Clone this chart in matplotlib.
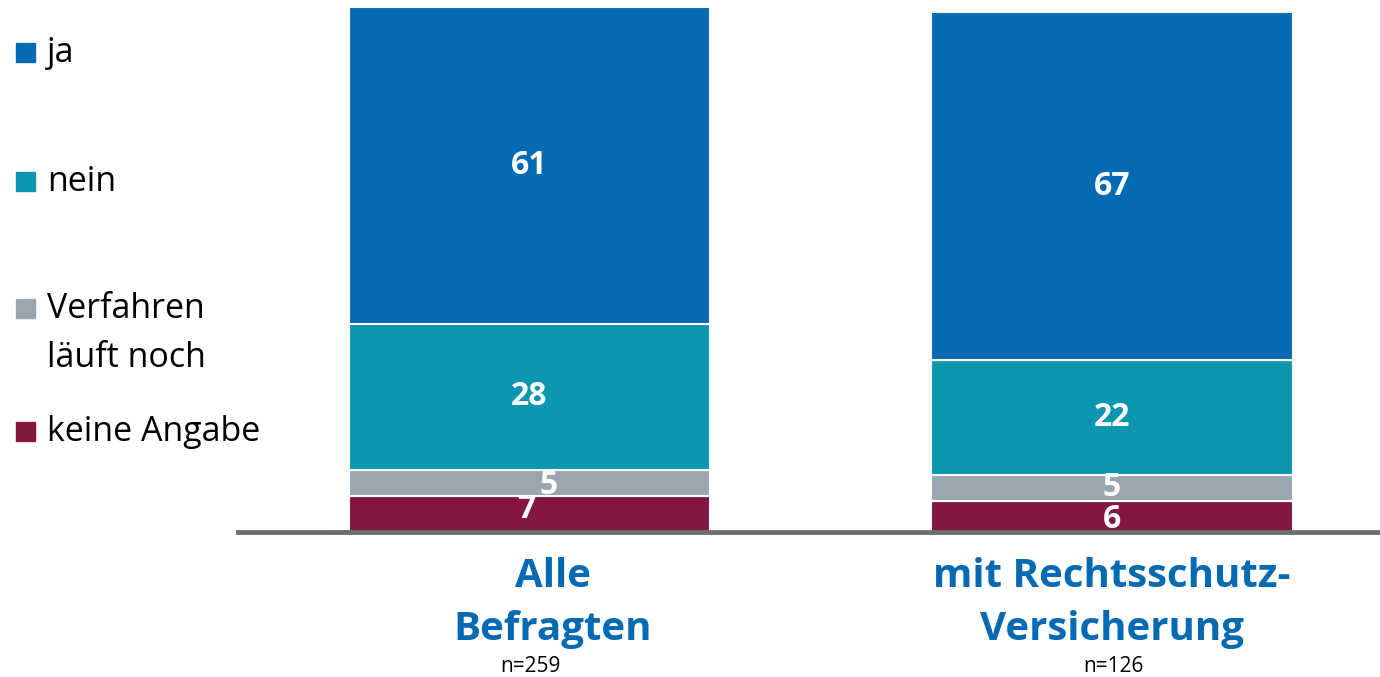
import matplotlib.pyplot as plt
from matplotlib.patches import Rectangle

plt.rcParams['font.family'] = ['Open Sans', 'DejaVu Sans']

# data
groups = ["Alle\nBefragten", "mit Rechtsschutz-\nVersicherung"]
sample_n = ["n=259", "n=126"]
series = ["keine Angabe", "Verfahren\nläuft noch", "nein", "ja"]
keine = [7, 6]
verfahren = [5, 5]
nein = [28, 22]
ja = [61, 67]

colors = ["#841642", "#99A6B0", "#0A96AF", "#036AB3"]
stack = [keine, verfahren, nein, ja]

# little nudges of the value labels (points), as in the original slide
lbl_dx = [[-2, 0], [14, 0], [0, 0], [0, 0]]
lbl_dy = [[3, -2.5], [-2, 0.5], [0, 0], [0, 0]]

fig = plt.figure(figsize=(13.8, 6.77), dpi=100)
W, H = 1380, 677
ax = fig.add_axes([238 / W, (H - 532) / H, 1 - 238 / W, (532 - 7) / H])

x = [0, 1]
width = 0.62
bottom = [0, 0]
for k, vals in enumerate(stack):
    ax.bar(x, vals, width, bottom=bottom, color=colors[k],
           edgecolor="white", linewidth=1.5)
    for i in range(2):
        ax.annotate(str(vals[i]), (x[i], bottom[i] + vals[i] / 2),
                    xytext=(lbl_dx[k][i], lbl_dy[k][i]), textcoords="offset points",
                    ha="center", va="center", color="white",
                    fontsize=23, fontweight="bold")
    bottom = [bottom[i] + vals[i] for i in range(2)]

ax.set_xlim(-0.5004, 1.46)
ax.set_ylim(0, 101)
ax.axhline(0, color="#6E6E6E", lw=3.5, clip_on=False)
ax.axis("off")

# category labels under the bars (one text per line, baselines in points below the axis)
px = 0.72
cat_dx = [17, 0]
for i in range(2):
    for j, line in enumerate(groups[i].split("\n")):
        ax.annotate(line, (x[i], 0), xytext=(cat_dx[i], -(55 + 53 * j) * px),
                    textcoords="offset points", ha="center", va="baseline",
                    color="#036AB3", fontsize=29, fontweight="bold")
    ax.annotate(sample_n[i], (x[i], 0), xytext=(1, -140 * px), textcoords="offset points",
                ha="center", va="baseline", color="black", fontsize=15)

# legend on the left, drawn by hand (baselines in pixels from the top)
leg_base = [62, 191, 318, 441]
order = [3, 2, 1, 0]
for yb, k in zip(leg_base, order):
    fig.patches.append(Rectangle((16 / W, 1 - yb / H), 19 / W, 19 / H,
                                 transform=fig.transFigure, color=colors[k]))
    for j, line in enumerate(series[k].split("\n")):
        fig.text(47 / W, 1 - (yb + 49 * j) / H, line, ha="left", va="baseline",
                 fontsize=24.5, color="black")

fig.savefig("out.png", dpi=100)
